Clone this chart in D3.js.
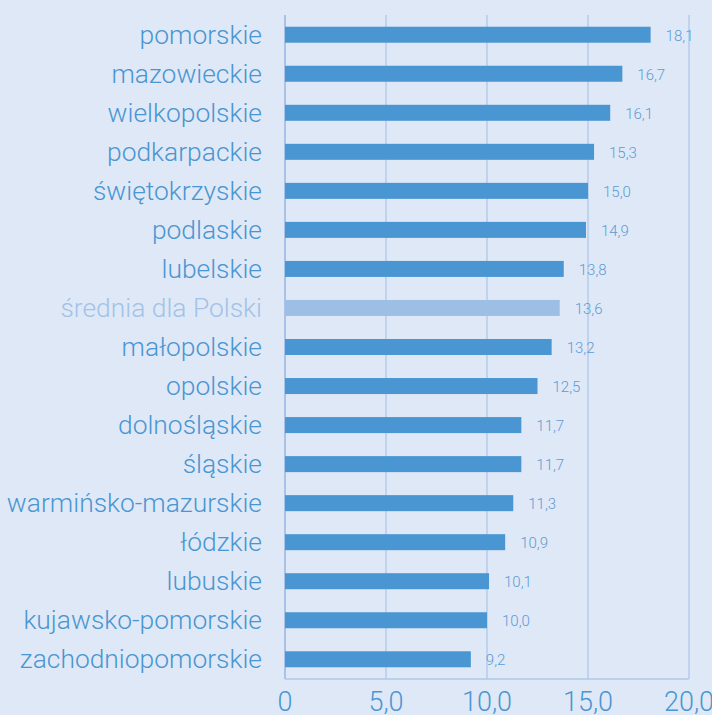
<!DOCTYPE html>
<html><head><meta charset="utf-8">
<script src="https://cdn.jsdelivr.net/npm/d3@7"></script>
<style>
html,body{margin:0;padding:0;background:#DFE8F6;}
svg{display:block;font-family:Roboto,"Liberation Sans",sans-serif;}
</style></head>
<body><svg id="chart" width="712" height="715"></svg>
<script>
const categories = ["pomorskie","mazowieckie","wielkopolskie","podkarpackie","świętokrzyskie","podlaskie","lubelskie","średnia dla Polski","małopolskie","opolskie","dolnośląskie","śląskie","warmińsko-mazurskie","łódzkie","lubuskie","kujawsko-pomorskie","zachodniopomorskie"];
const values = [18.1,16.7,16.1,15.3,15.0,14.9,13.8,13.6,13.2,12.5,11.7,11.7,11.3,10.9,10.1,10.0,9.2];
const highlight = ["średnia dla Polski"];
const ticks = [0,5,10,15,20];

const svg = d3.select("#chart");
const W = 712, H = 715;
const m = {left:285, right:23, top:15, bottom:36};
svg.append("rect").attr("width",W).attr("height",H).attr("fill","#DFE8F6");

const x = d3.scaleLinear().domain([0,20]).range([m.left, W-m.right]);
const y = d3.scaleBand().domain(categories).range([m.top, H-m.bottom]).paddingInner(0.59).paddingOuter(0.3);

const fmt = v => v===0 ? "0" : d3.format(".1f")(v).replace(".",",");
const gridC = "#AFC8EA";

svg.append("g").selectAll("line").data(ticks).join("line")
  .attr("x1",d=>x(d)).attr("x2",d=>x(d))
  .attr("y1",m.top).attr("y2",H-m.bottom)
  .attr("stroke",gridC).attr("stroke-width",1.3);
svg.append("line").attr("x1",x(0)).attr("x2",x(20)).attr("y1",H-m.bottom).attr("y2",H-m.bottom)
  .attr("stroke",gridC).attr("stroke-width",1.3);
svg.append("line").attr("x1",x(0)).attr("x2",x(0)).attr("y1",m.top).attr("y2",H-m.bottom)
  .attr("stroke","#A9C3E8").attr("stroke-width",2);

svg.append("g").selectAll("rect").data(categories).join("rect")
  .attr("x",x(0)).attr("y",d=>y(d)+y.bandwidth()/2-8)
  .attr("width",(d,i)=>x(values[i])-x(0)).attr("height",16)
  .attr("fill",d=>highlight.includes(d)?"#9DBFE6":"#4A96D2");

svg.append("g").selectAll("text").data(categories).join("text")
  .attr("x",(d,i)=>x(values[i])+15).attr("y",d=>y(d)+y.bandwidth()/2+2)
  .attr("dominant-baseline","middle")
  .attr("font-size",15).attr("font-weight",300)
  .attr("fill","#5B9BD5")
  .text((d,i)=>fmt(values[i]));

svg.append("g").selectAll("text").data(categories).join("text")
  .attr("x",262).attr("y",d=>y(d)+y.bandwidth()/2+2)
  .attr("text-anchor","end").attr("dominant-baseline","middle")
  .attr("font-size",26.4).attr("font-weight",300)
  .attr("fill",d=>highlight.includes(d)?"#A3C2E8":"#4A96D2")
  .text(d=>d);

svg.append("g").selectAll("text").data(ticks).join("text")
  .attr("x",d=>x(d)).attr("y",711)
  .attr("text-anchor","middle")
  .attr("font-size",27).attr("font-weight",300)
  .attr("fill","#4A96D2")
  .text(d=>fmt(d));
</script></body></html>
